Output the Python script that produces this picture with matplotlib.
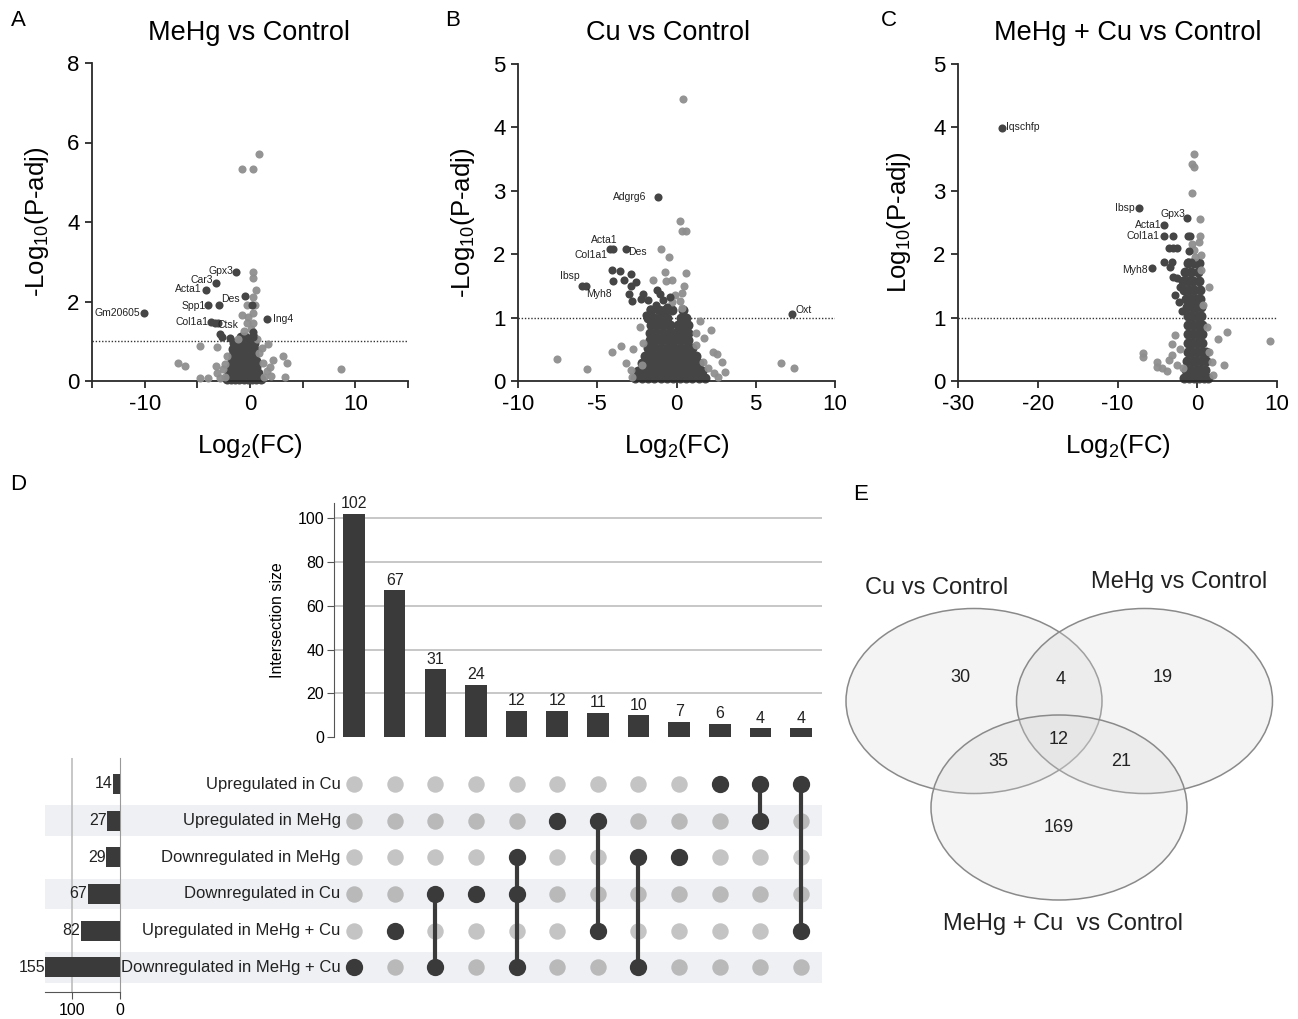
import matplotlib.pyplot as plt
from matplotlib.patches import Ellipse

plt.rcParams['font.family'] = ['Liberation Sans', 'DejaVu Sans']
plt.rcParams['mathtext.default'] = 'regular'

W, H = 1298, 1019
LIGHT = '#8e8e8e'
DARK = '#454545'

# ---------------- A: MeHg vs Control ----------------
a_light_x = [-0.73, 0.31, 0.85, 0.31, 0.25, 0.57, 0.31, -0.3, 0.46, -0.73, 0.31, -0.3, 0.25,
             1.73, 1.1, -4.74, -3.16, -6.8, -6.2, 3.16, 3.54, 2.2, 3.3, 8.62, -4.74, -3.95,
             -3.22, -3.16, -2.84, -2.37, -2.4, -2.6, 1.3, 1.6, 2.0, 1.2, -2.2, 0.9, 0.7, -0.6,
             0.1, -0.2, 1.9, -1.1]
a_light_y = [5.34, 5.34, 5.72, 2.75, 2.6, 2.29, 2.12, 1.91, 1.91, 1.66, 1.70, 1.45, 1.47,
             0.94, 0.82, 0.87, 0.86, 0.46, 0.37, 0.62, 0.45, 0.52, 0.1, 0.31, 0.08, 0.08,
             0.38, 0.2, 0.08, 0.44, 0.1, 0.3, 0.1, 0.25, 0.12, 0.45, 0.62, 0.7, 1.05, 1.25,
             1.3, 1.6, 0.35, 1.05]
a_dark_x = [-3.0, -0.47, 0.2, 0.31, -2.84, -2.68, -1.9, 0.3]
a_dark_y = [1.45, 2.14, 1.91, 1.24, 1.19, 1.11, 1.07, 1.1]
a_core_x = [-2.2, -1.8, -1.4, -1.0, -0.6, -0.2, 0.2, 0.6, 1.0,
            -2.0, -1.6, -1.2, -0.8, -0.4, 0.0, 0.4, 0.8,
            -1.8, -1.4, -1.0, -0.6, -0.2, 0.2, 0.6,
            -1.7, -1.3, -0.9, -0.5, -0.1, 0.3, 0.6,
            -1.6, -1.2, -0.8, -0.4, 0.0, 0.4,
            -1.6, -1.2, -0.8, -0.4, 0.0, 0.4,
            -1.5, -1.1, -0.7, -0.3, 0.1, 0.4,
            -0.9, -0.5, 0.3]
a_core_y = [0.05, 0.05, 0.05, 0.05, 0.05, 0.05, 0.05, 0.05, 0.05,
            0.2, 0.2, 0.2, 0.2, 0.2, 0.2, 0.2, 0.2,
            0.35, 0.35, 0.35, 0.35, 0.35, 0.35, 0.35,
            0.5, 0.5, 0.5, 0.5, 0.5, 0.5, 0.5,
            0.65, 0.65, 0.65, 0.65, 0.65, 0.65,
            0.8, 0.8, 0.8, 0.8, 0.8, 0.8,
            0.95, 0.95, 0.95, 0.95, 0.95, 0.95,
            1.1, 1.1, 1.1]
a_genes = ['Gm20605', 'Gpx3', 'Car3', 'Acta1', 'Spp1', 'Des', 'Col1a1', 'Ctsk', 'Ing4']
a_gene_x = [-10.04, -1.33, -3.22, -4.2, -3.95, -2.97, -3.73, -3.32, 1.64]
a_gene_y = [1.70, 2.75, 2.47, 2.30, 1.91, 1.91, 1.49, 1.46, 1.57]

# ---------------- B: Cu vs Control ----------------
b_light_x = [0.38, 0.25, 0.36, 0.63, -0.95, -0.48, -0.74, -0.67, -0.27, 0.59, 0.46, 0.32,
             0.21, -0.1, 0.35, -0.3, -7.54, -5.64, -4.04, -3.52, -2.74, -3.2, -2.84, -2.8,
             1.26, 2.15, 1.73, 2.32, 2.57, 2.84, 3.05, 2.63, 2.36, 1.68, 6.59, 7.41, 1.22,
             -2.3, -2.1, 1.5, -1.5, -2.2, 2.0]
b_light_y = [4.45, 2.53, 2.36, 2.36, 2.08, 1.96, 1.72, 1.58, 1.6, 1.7, 1.5, 1.39,
             1.26, 1.35, 1.15, 1.25, 0.35, 0.19, 0.46, 0.55, 0.51, 0.29, 0.17, 0.07,
             0.76, 0.8, 0.68, 0.46, 0.43, 0.3, 0.14, 0.06, 0.12, 0.3, 0.28, 0.21, 0.56,
             0.85, 0.6, 0.95, 1.6, 0.25, 0.2]
b_dark_x = [-4.04, -3.54, -2.84, -4.0, -3.31, -2.53, -2.88, -2.99, -2.82, -2.1, -2.27,
            -1.79, -1.26, -1.05, -1.68, -1.9, -0.84, -0.63, -0.42, -1.3, -1.0]
b_dark_y = [1.75, 1.74, 1.69, 1.58, 1.6, 1.56, 1.5, 1.38, 1.26, 1.38, 1.3,
            1.27, 1.43, 1.38, 1.14, 1.04, 1.27, 1.17, 1.33, 1.2, 1.1]
b_core_x = [-2.6, -2.2, -1.8, -1.4, -1.0, -0.6, -0.2, 0.2, 0.6, 1.0, 1.4, 1.8,
            -2.4, -2.0, -1.6, -1.2, -0.8, -0.4, 0.0, 0.4, 0.8, 1.2, 1.6,
            -2.2, -1.8, -1.4, -1.0, -0.6, -0.2, 0.2, 0.6, 1.0, 1.4,
            -2.0, -1.6, -1.2, -0.8, -0.4, 0.0, 0.4, 0.8, 1.2,
            -1.8, -1.4, -1.0, -0.6, -0.2, 0.2, 0.6, 1.0,
            -1.7, -1.3, -0.9, -0.5, -0.1, 0.3, 0.7,
            -1.7, -1.3, -0.9, -0.5, -0.1, 0.3, 0.7,
            -1.6, -1.2, -0.8, -0.4, 0.1, 0.4, 0.7,
            -1.8, -1.4, -1.0, -0.6, 0.3, 0.6,
            -1.6, -1.1, -0.7, -0.3, 0.4]
b_core_y = [0.05, 0.05, 0.05, 0.05, 0.05, 0.05, 0.05, 0.05, 0.05, 0.05, 0.05, 0.05,
            0.15, 0.15, 0.15, 0.15, 0.15, 0.15, 0.15, 0.15, 0.15, 0.15, 0.15,
            0.28, 0.28, 0.28, 0.28, 0.28, 0.28, 0.28, 0.28, 0.28, 0.28,
            0.4, 0.4, 0.4, 0.4, 0.4, 0.4, 0.4, 0.4, 0.4,
            0.52, 0.52, 0.52, 0.52, 0.52, 0.52, 0.52, 0.52,
            0.64, 0.64, 0.64, 0.64, 0.64, 0.64, 0.64,
            0.76, 0.76, 0.76, 0.76, 0.76, 0.76, 0.76,
            0.88, 0.88, 0.88, 0.88, 0.88, 0.88, 0.88,
            1.0, 1.0, 1.0, 1.0, 1.0, 1.0,
            1.12, 1.12, 1.12, 1.12, 1.12]
b_genes = ['Adgrg6', 'Acta1', 'Col1a1', 'Des', 'Ibsp', 'Myh8', 'Oxt']
b_gene_x = [-1.14, -4.0, -4.21, -3.16, -5.94, -5.68, 7.26]
b_gene_y = [2.91, 2.08, 2.08, 2.08, 1.5, 1.5, 1.05]

# ---------------- C: MeHg + Cu vs Control ----------------
c_light_x = [-0.46, -0.67, -0.46, -0.6, 0.38, 0.38, -0.6, -0.46, 0.46, 1.42, 3.72, 2.54,
             9.16, -6.75, -6.75, -5.08, -5.08, -4.45, -3.74, -3.2, -3.2, -3.49, -2.77, 3.3,
             2.03, 0.5, 0.7, 1.2, 1.5, -2.2, -2.5, 0.2, -0.3, -1.8, 1.8]
c_light_y = [3.58, 3.42, 3.37, 2.96, 2.56, 2.28, 2.16, 2.06, 1.98, 1.48, 0.77, 0.67,
             0.63, 0.44, 0.38, 0.3, 0.22, 0.21, 0.16, 0.59, 0.41, 0.33, 0.72, 0.26,
             0.09, 1.75, 1.2, 0.85, 0.45, 0.5, 0.25, 2.2, 1.95, 0.2, 0.3]
c_dark_x = [-2.98, -3.6, -2.98, -2.55, -4.16, -3.2, -3.4, -2.98, -1.1, -0.9, -1.1, -0.8,
            -2.5, -2.2, -2.8, -2.3, -1.9, -1.0, -0.9]
c_dark_y = [2.28, 2.09, 2.09, 2.09, 1.88, 1.88, 1.8, 1.64, 2.28, 2.28, 1.88, 1.88,
            1.62, 1.48, 1.35, 1.25, 1.1, 2.05, 1.6]
c_core_x = [-1.6, -1.0, -0.4, 0.2, 0.8, 1.4,
            -1.4, -0.8, -0.2, 0.4, 1.0,
            -1.3, -0.7, -0.1, 0.5, 1.1,
            -1.2, -0.6, 0.0, 0.6, 1.1,
            -1.2, -0.6, 0.0, 0.6,
            -1.1, -0.5, 0.1, 0.6,
            -1.1, -0.5, 0.1, 0.6,
            -1.2, -0.6, 0.0, 0.5,
            -1.3, -0.7, -0.1, 0.5,
            -1.4, -0.8, -0.2, 0.4,
            -1.6, -1.0, -0.4, 0.3,
            -1.8, -1.2, -0.5, 0.2,
            -1.5, -0.8, 0.1,
            -1.2, -0.4, 0.2]
c_core_y = [0.05, 0.05, 0.05, 0.05, 0.05, 0.05,
            0.18, 0.18, 0.18, 0.18, 0.18,
            0.32, 0.32, 0.32, 0.32, 0.32,
            0.46, 0.46, 0.46, 0.46, 0.46,
            0.6, 0.6, 0.6, 0.6,
            0.74, 0.74, 0.74, 0.74,
            0.88, 0.88, 0.88, 0.88,
            1.02, 1.02, 1.02, 1.02,
            1.16, 1.16, 1.16, 1.16,
            1.3, 1.3, 1.3, 1.3,
            1.44, 1.44, 1.44, 1.44,
            1.58, 1.58, 1.58, 1.58,
            1.72, 1.72, 1.72,
            1.86, 1.86, 1.86]
c_genes = ['Iqschfp', 'Ibsp', 'Gpx3', 'Acta1', 'Col1a1', 'Myh8']
c_gene_x = [-24.43, -7.26, -1.23, -4.16, -4.16, -5.71]
c_gene_y = [3.99, 2.73, 2.57, 2.46, 2.28, 1.78]

# ---------------- D: UpSet ----------------
set_names = ['Upregulated in Cu', 'Upregulated in MeHg', 'Downregulated in MeHg',
             'Downregulated in Cu', 'Upregulated in MeHg + Cu', 'Downregulated in MeHg + Cu']
set_sizes = [14, 27, 29, 67, 82, 155]
inter_sizes = [102, 67, 31, 24, 12, 12, 11, 10, 7, 6, 4, 4]
inter_members = [[5], [4], [3, 5], [3], [2, 3, 5], [1], [1, 4], [2, 5], [2], [0], [0, 1], [0, 4]]

# ---------------- E: Venn ----------------
venn_names = ['Cu vs Control', 'MeHg vs Control', 'MeHg + Cu  vs Control']
venn_counts = [30, 4, 19, 35, 12, 21, 169]


def px_rect(left, top, right, bottom):
    return [left / W, 1 - bottom / H, (right - left) / W, (bottom - top) / H]


def volcano(rect, xlim, xticks, xticklabels, ytop, pts, genes, gx, gy, offsets,
            ylabel, ylab_x):
    lx, ly, dx, dy, cx, cy = pts
    ax = fig.add_axes(rect)
    # dense centre of the cloud, drawn with slightly bigger marks so it reads as a blob
    ax.scatter(cx, cy, s=52, color=DARK, linewidths=0, clip_on=False, zorder=2)
    ax.scatter(lx, ly, s=34, color=LIGHT, linewidths=0, alpha=0.95, clip_on=False, zorder=3)
    ax.scatter(dx, dy, s=34, color=DARK, linewidths=0, clip_on=False, zorder=3)
    ax.scatter(gx, gy, s=34, color=DARK, linewidths=0, clip_on=False, zorder=3)
    for g, x, y, (ox, oy, ha) in zip(genes, gx, gy, offsets):
        ax.annotate(g, (x, y), xytext=(ox * 0.72, oy * 0.72), textcoords='offset points',
                    ha=ha, va='center', fontsize=7.5, color='#222222', zorder=4)
    ax.axhline(1, color='#333333', lw=1.0, ls=(0, (1, 1.3)), zorder=1)
    ax.set_xlim(*xlim)
    ax.set_ylim(0, ytop)
    ax.set_xticks(xticks)
    ax.set_xticklabels(xticklabels)
    ax.set_yticks(range(0, ytop + 1, 2 if ytop == 8 else 1))
    for s in ('top', 'right'):
        ax.spines[s].set_visible(False)
    for s in ('left', 'bottom'):
        ax.spines[s].set_linewidth(1.3)
        ax.spines[s].set_color('#2a2a2a')
    ax.tick_params(direction='out', length=5, width=1.3, color='#2a2a2a',
                   labelsize=16, pad=4)
    ax.set_xlabel('$Log_2$(FC)', fontsize=18.5)
    ax.xaxis.set_label_coords(0.5, -0.16)
    ax.set_ylabel(ylabel, fontsize=18.5)
    ax.yaxis.set_label_coords(ylab_x, 0.5)
    return ax


fig = plt.figure(figsize=(W / 100, H / 100), dpi=100)

volcano(px_rect(92, 63, 408, 381), (-15, 15), [-15, -10, -5, 0, 5, 10, 15],
        ['', '-10', '', '0', '', '10', ''], 8,
        (a_light_x, a_light_y, a_dark_x, a_dark_y, a_core_x, a_core_y),
        a_genes, a_gene_x, a_gene_y,
        [(-4, 0, 'right'), (-3, 1, 'right'), (-3, 3, 'right'), (-4, 1, 'right'),
         (-3, -1, 'right'), (2, 6, 'left'), (-2, 0, 'right'), (2, -2, 'left'), (6, 0, 'left')],
        '-$Log_{10}$(P-adj)', -0.13)
volcano(px_rect(518, 64, 835, 381), (-10, 10), [-10, -5, 0, 5, 10],
        ['-10', '-5', '0', '5', '10'], 5,
        (b_light_x, b_light_y, b_dark_x, b_dark_y, b_core_x, b_core_y),
        b_genes, b_gene_x, b_gene_y,
        [(-12, 0, 'right'), (5, 9, 'right'), (-2, -6, 'right'), (2, -3, 'left'),
         (-3, 10, 'right'), (0, -8, 'left'), (4, 4, 'left')],
        '-$Log_{10}$(P-adj)', -0.13)
volcano(px_rect(958, 64, 1277, 381), (-30, 10), [-30, -20, -10, 0, 10],
        ['-30', '-20', '-10', '0', '10'], 5,
        (c_light_x, c_light_y, c_dark_x, c_dark_y, c_core_x, c_core_y),
        c_genes, c_gene_x, c_gene_y,
        [(4, 1, 'left'), (-5, 0, 'right'), (-2, 4, 'right'), (-2, 0, 'right'),
         (-5, 0, 'right'), (-4, -2, 'right')],
        '$Log_{10}$(P-adj)', -0.14)

for txt, xc in (('MeHg vs Control', 249), ('Cu vs Control', 668),
                ('MeHg + Cu vs Control', 1128)):
    fig.text(xc / W, 1 - 33 / H, txt, ha='center', va='center', fontsize=19.5)

for letter, x, y in (('A', 18, 20), ('B', 453, 20), ('C', 889, 20), ('D', 18, 484), ('E', 861, 495)):
    fig.text(x / W, 1 - y / H, letter, ha='center', va='center', fontsize=16)

# ---- UpSet: intersection size bars ----
col0, col_step = 354, 40.64
row0, row_step = 784, 36.65


def col_lim(left, right):
    return ((left - col0) / col_step, (right - col0) / col_step)


def row_lim(top, bottom):
    return ((bottom - row0) / row_step, (top - row0) / row_step)


ax_bar = fig.add_axes(px_rect(334, 503, 822, 737))
cols = list(range(len(inter_sizes)))
ax_bar.bar(cols, inter_sizes, width=0.53, color='#3a3a3a', zorder=3)
for c, v in zip(cols, inter_sizes):
    ax_bar.text(c, v + 1.2, str(v), ha='center', va='bottom', fontsize=11.5, color='#222222')
ax_bar.set_xlim(*col_lim(334, 822))
ax_bar.set_ylim(0, 107)
ax_bar.set_yticks([0, 20, 40, 60, 80, 100])
ax_bar.set_xticks([])
for v in [20, 40, 60, 80, 100]:
    ax_bar.axhline(v, color='#b8b8b8', lw=1.1, zorder=1)
for s in ('top', 'right', 'bottom'):
    ax_bar.spines[s].set_visible(False)
ax_bar.spines['left'].set_color('#555555')
ax_bar.tick_params(axis='y', length=5, color='#555555', labelsize=11.5, pad=2)
ax_bar.set_ylabel('Intersection size', fontsize=11.5)
ax_bar.yaxis.set_label_coords(-0.1, 0.5)

# ---- UpSet: matrix ----
ax_mat = fig.add_axes(px_rect(45, 766, 822, 985))
ax_mat.set_xlim(*col_lim(45, 822))
ax_mat.set_ylim(*row_lim(766, 985))
ax_mat.axis('off')
for r in range(1, len(set_names), 2):
    ax_mat.axhspan(r - 0.42, r + 0.42, color='#eef0f3', lw=0, zorder=0)
for r, name in enumerate(set_names):
    ax_mat.text(-0.33, r, name, ha='right', va='center', fontsize=12, color='#222222')
    light = '#c4c4c4' if r % 2 == 0 else '#b9b9b9'
    ax_mat.scatter(cols, [r] * len(cols), s=140, color=light, linewidths=0, zorder=1)
for c, members in enumerate(inter_members):
    if len(members) > 1:
        ax_mat.plot([c, c], [min(members), max(members)], color='#3a3a3a', lw=3, zorder=2)
    ax_mat.scatter([c] * len(members), members, s=155, color='#3a3a3a', linewidths=0, zorder=3)

# ---- UpSet: set size bars ----
ax_set = fig.add_axes(px_rect(45, 758, 120, 992))
ax_set.patch.set_alpha(0)
rows = list(range(len(set_sizes)))
ax_set.barh(rows, set_sizes, height=0.55, color='#3a3a3a', zorder=3)
for r, v in zip(rows, set_sizes):
    ax_set.text(v + 1, r, str(v), ha='right', va='center', fontsize=11.5, color='#222222')
ax_set.set_xlim(156, 0)
ax_set.set_ylim(*row_lim(758, 992))
ax_set.set_xticks([100, 0])
ax_set.set_yticks([])
ax_set.axvline(100, color='#b8b8b8', lw=1.1, zorder=1)
for s in ('top', 'left'):
    ax_set.spines[s].set_visible(False)
ax_set.spines['right'].set_color('#999999')
ax_set.spines['bottom'].set_color('#555555')
ax_set.tick_params(axis='x', length=5, color='#555555', labelsize=11.5, pad=3)

# ---- Venn ----
ax_v = fig.add_axes(px_rect(830, 480, 1298, 960))
ax_v.set_xlim(830, 1298)
ax_v.set_ylim(960, 480)
ax_v.axis('off')
for cx, cy in ((974, 701), (1144.5, 701), (1059, 807.5)):
    ax_v.add_patch(Ellipse((cx, cy), 256, 185, facecolor='#d8d8d8', alpha=0.28,
                           edgecolor='none'))
    ax_v.add_patch(Ellipse((cx, cy), 256, 185, facecolor='none', edgecolor='#8a8a8a',
                           lw=1.1))
for (x, y), v in zip(((960, 678), (1061, 679), (1163, 678), (998, 761), (1059, 739),
                      (1121, 761), (1059, 828)), venn_counts):
    ax_v.text(x, y, str(v), ha='center', va='center', fontsize=13, color='#222222')
for (x, y), name in zip(((937, 588), (1179, 582), (1063, 924)), venn_names):
    ax_v.text(x, y, name, ha='center', va='center', fontsize=17, color='#222222')

fig.savefig('out.png', dpi=100)
